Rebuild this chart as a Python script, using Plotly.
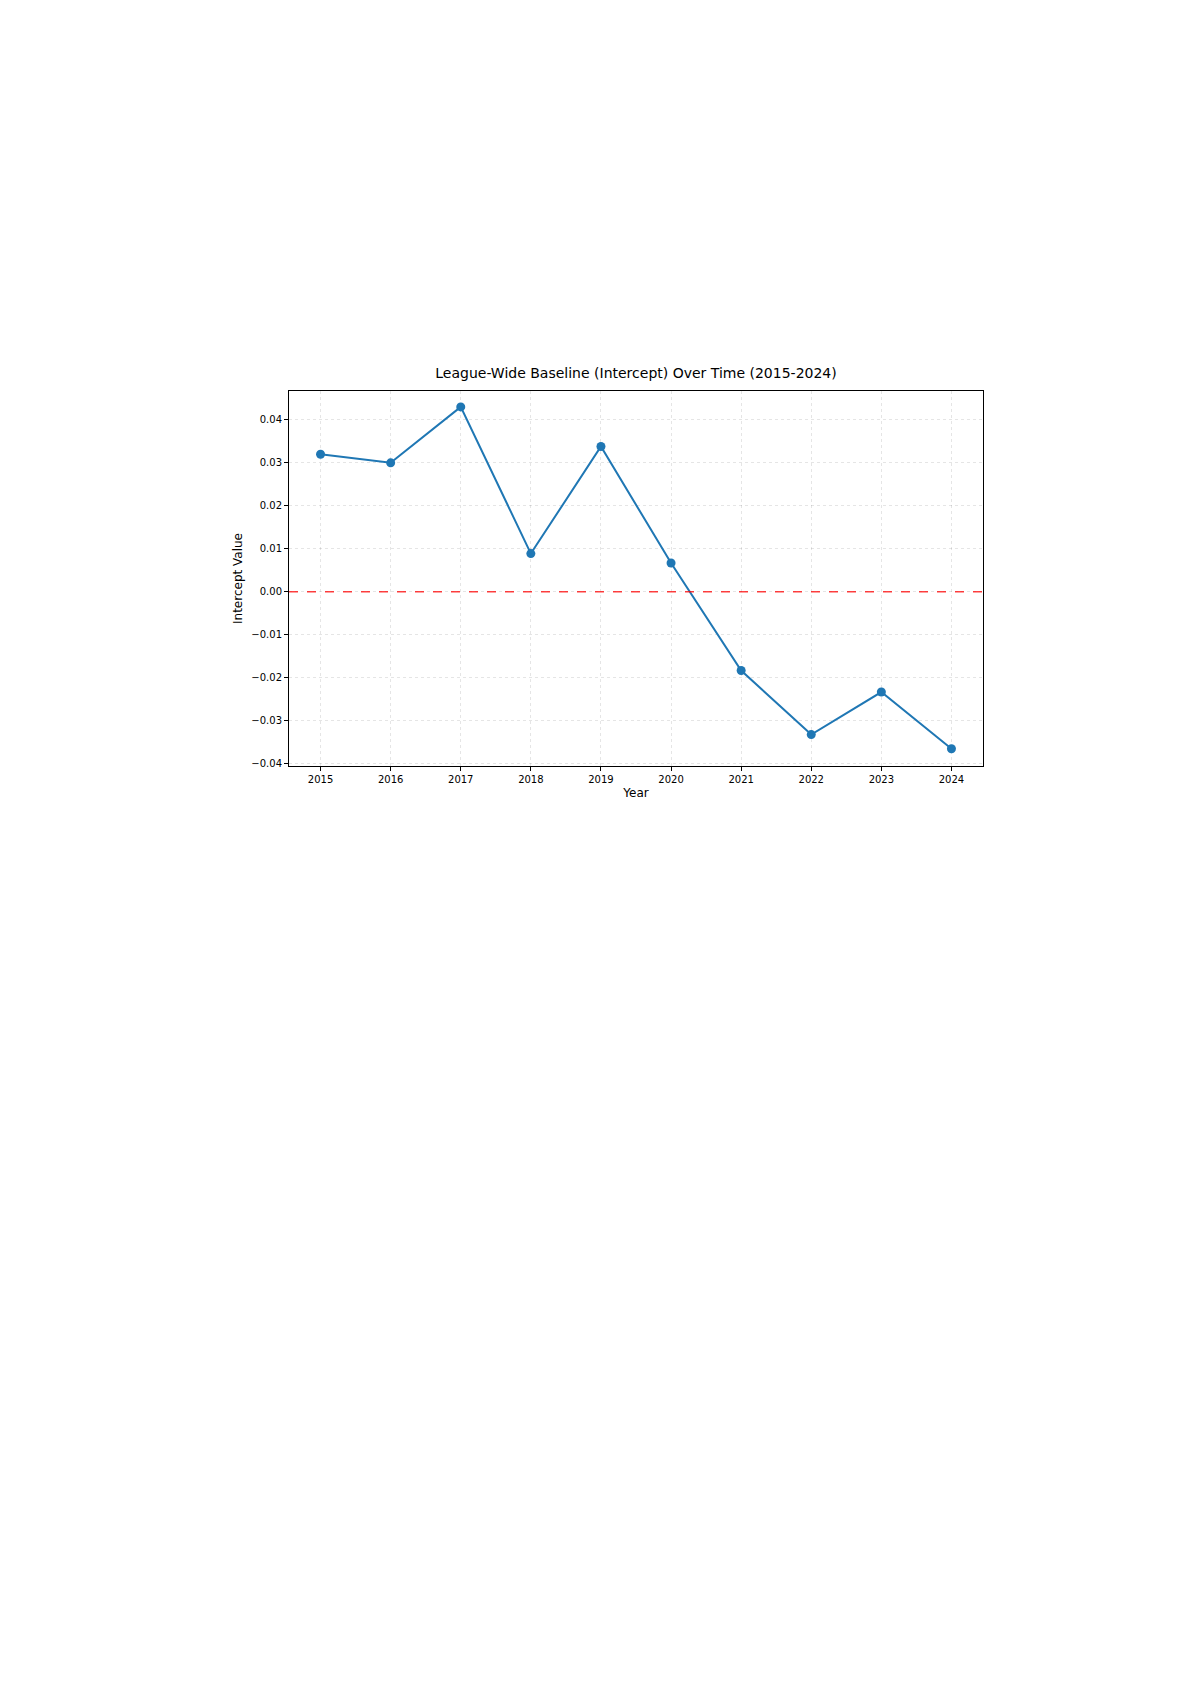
import plotly.graph_objects as go

years = [2015, 2016, 2017, 2018, 2019, 2020, 2021, 2022, 2023, 2024]
intercepts = [0.032, 0.030, 0.043, 0.0089, 0.0338, 0.0067, -0.0183, -0.0332, -0.0233, -0.0365]
y_ticks = [0.04, 0.03, 0.02, 0.01, 0.0, -0.01, -0.02, -0.03, -0.04]
y_labels = ["0.04", "0.03", "0.02", "0.01", "0.00", "\u22120.01", "\u22120.02", "\u22120.03", "\u22120.04"]

fig = go.Figure()
fig.add_trace(go.Scatter(x=years, y=intercepts, mode="lines+markers",
                         line=dict(color="#1f77b4", width=2),
                         marker=dict(size=9, color="#1f77b4")))
fig.add_hline(y=0, line=dict(color="rgba(255,0,0,0.75)", width=1.5, dash="dash"))

axis = dict(showline=True, linecolor="black", linewidth=1, mirror=True,
            ticks="outside", ticklen=4, tickcolor="black",
            showgrid=True, gridcolor="rgba(0,0,0,0.1)", griddash="dot", zeroline=False,
            tickfont=dict(size=10, color="black"))
fig.update_xaxes(axis, range=[2014.55, 2024.45], tickvals=years,
                 title=dict(text="Year", font=dict(size=12, color="black"), standoff=4))
fig.update_yaxes(axis, range=[-0.0405, 0.0467], tickvals=y_ticks, ticktext=y_labels,
                 title=dict(text="Intercept Value", font=dict(size=12, color="black"), standoff=6))

fig.update_layout(width=1192, height=1685, showlegend=False,
                  paper_bgcolor="white", plot_bgcolor="white",
                  font=dict(family="DejaVu Sans"),
                  margin=dict(l=281, r=217, t=383, b=927),
                  title=dict(text="League-Wide Baseline (Intercept) Over Time (2015-2024)",
                             x=0.5, xanchor="center", xref="paper",
                             y=(1685 - 365) / 1685, yref="container", yanchor="middle",
                             font=dict(size=14, color="black")))
fig.write_html("out.html")
